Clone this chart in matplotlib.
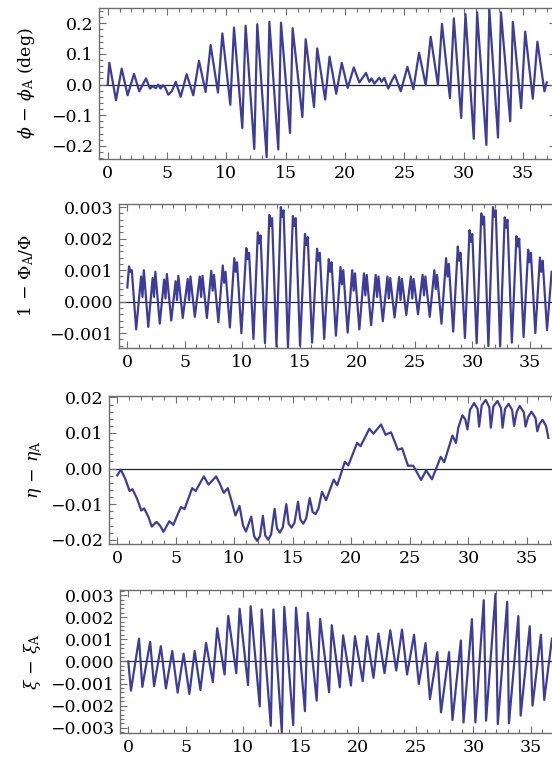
import numpy as np
import matplotlib.pyplot as plt
from matplotlib.ticker import MultipleLocator

plt.rcParams['font.family'] = 'DejaVu Serif'
plt.rcParams['mathtext.fontset'] = 'dejavuserif'

# ---- panel 1: phi - phi_A (deg), peaks and troughs
phi_pts = [(0.00, 0.000), (0.14, 0.071), (0.70, -0.051), (1.18, 0.052), (1.68, -0.035),
           (2.22, 0.035), (2.66, -0.022), (3.23, 0.020), (3.56, -0.013), (3.80, -0.005),
           (4.05, -0.012), (4.25, 0.000), (4.45, -0.013), (4.65, -0.002), (4.85, -0.010),
           (5.10, -0.033), (5.40, -0.022), (5.73, 0.009), (6.15, -0.040), (6.65, 0.034),
           (7.21, -0.035), (7.69, 0.078), (8.25, -0.024), (8.67, 0.129), (9.29, -0.026),
           (9.66, 0.167), (10.33, -0.066), (10.64, 0.186), (11.34, -0.142), (11.62, 0.192),
           (12.35, -0.210), (12.60, 0.197), (13.39, -0.237), (13.62, 0.205), (14.37, -0.212),
           (14.60, 0.202), (15.36, -0.158), (15.58, 0.184), (16.40, -0.106), (16.68, 0.148),
           (17.38, -0.073), (17.65, 0.118), (18.32, -0.049), (18.69, 0.091), (19.25, -0.030),
           (19.72, 0.071), (20.22, -0.011), (20.73, 0.056), (21.20, 0.007), (21.76, 0.038),
           (22.04, 0.009), (22.23, 0.020), (22.46, 0.003), (22.88, 0.022), (23.07, 0.009),
           (23.30, 0.022), (23.63, -0.013), (23.91, 0.011), (24.19, 0.031), (24.69, -0.022),
           (25.25, 0.058), (25.75, -0.015), (26.23, 0.104), (26.79, -0.002), (27.21, 0.156),
           (27.82, -0.002), (28.16, 0.198), (28.83, -0.044), (29.16, 0.216), (29.78, -0.109),
           (30.14, 0.230), (30.84, -0.177), (31.12, 0.236), (31.90, -0.197), (32.15, 0.244),
           (32.88, -0.173), (33.13, 0.236), (33.91, -0.120), (34.13, 0.205), (34.83, -0.077),
           (35.17, 0.173), (35.81, -0.046), (36.20, 0.140), (36.79, -0.022), (36.98, 0.007)]

# ---- panel 2: 1 - Phi_A/Phi (x 1e-3), one entry per oscillation
flux_peak_t = [0.15, 1.2, 2.2, 3.2, 4.2, 5.25, 6.3, 7.3, 8.3, 9.3,
               10.35, 11.35, 12.35, 13.35, 14.4, 15.45, 16.5, 17.52, 18.54, 19.56,
               20.58, 21.6, 22.62, 23.64, 24.66, 25.68, 26.7, 27.72, 28.74, 29.76,
               30.78, 31.8, 32.82, 33.84, 34.86, 35.88, 36.9]
flux_peak1 = [1.12, 0.80, 0.75, 0.70, 0.65, 0.72, 0.80, 0.98, 1.15, 1.38,
              1.70, 2.20, 2.75, 3.00, 2.72, 2.15, 1.68, 1.35, 1.10, 1.00,
              0.90, 0.85, 0.80, 0.78, 0.80, 0.85, 1.00, 1.38, 1.75, 2.27,
              2.80, 3.00, 2.68, 2.08, 1.65, 1.40, 0.95]
flux_notch = [0.95, 0.15, 0.15, 0.10, 0.05, 0.05, 0.15, 0.35, 0.60, 0.95,
              1.35, 1.85, 2.40, 2.70, 2.40, 1.80, 1.30, 0.95, 0.55, 0.35,
              0.20, 0.15, 0.10, 0.05, 0.10, 0.20, 0.40, 0.80, 1.30, 1.90,
              2.45, 2.70, 2.35, 1.75, 1.25, 0.95]
flux_peak2 = [1.00, 1.00, 0.95, 0.88, 0.82, 0.80, 0.82, 0.85, 0.95, 1.25,
              1.55, 2.10, 2.65, 2.90, 2.65, 2.05, 1.55, 1.25, 1.00, 0.90,
              0.85, 0.80, 0.75, 0.72, 0.72, 0.80, 0.85, 1.20, 1.55, 2.15,
              2.70, 2.90, 2.60, 2.00, 1.55, 1.30]
flux_trough = [-0.88, -0.80, -0.70, -0.60, -0.52, -0.48, -0.52, -0.65, -0.82, -1.00,
               -1.18, -1.32, -1.42, -1.45, -1.40, -1.30, -1.18, -1.08, -0.98, -0.88,
               -0.75, -0.62, -0.50, -0.42, -0.40, -0.48, -0.70, -0.95, -1.15, -1.32,
               -1.41, -1.42, -1.30, -1.12, -1.00, -0.90]
flux_start = 0.45

# ---- panel 3: eta - eta_A
eta_pts = [(0.00, -0.0019), (0.31, -0.0003), (0.70, -0.0030), (1.05, -0.0063), (1.30, -0.0058),
           (1.70, -0.0085), (2.05, -0.0118), (2.30, -0.0112), (2.65, -0.0135), (2.95, -0.0163),
           (3.35, -0.0150), (3.65, -0.0160), (3.95, -0.0178), (4.45, -0.0148), (4.80, -0.0158),
           (5.15, -0.0130), (5.45, -0.0108), (5.75, -0.0114), (6.40, -0.0055), (6.70, -0.0063),
           (7.40, -0.0022), (7.80, -0.0045), (8.45, -0.0022), (8.80, -0.0045), (9.10, -0.0068),
           (9.45, -0.0055), (9.80, -0.0095), (10.10, -0.0132), (10.45, -0.0105), (10.75, -0.0160),
           (11.00, -0.0177), (11.45, -0.0135), (11.70, -0.0190), (11.95, -0.0203), (12.20, -0.0190),
           (12.45, -0.0133), (12.65, -0.0188), (12.90, -0.0200), (13.15, -0.0185), (13.45, -0.0113),
           (13.65, -0.0168), (13.90, -0.0180), (14.15, -0.0165), (14.45, -0.0100), (14.65, -0.0155),
           (14.90, -0.0166), (15.15, -0.0152), (15.45, -0.0093), (15.65, -0.0143), (15.90, -0.0155),
           (16.15, -0.0140), (16.45, -0.0083), (16.70, -0.0122), (16.95, -0.0128), (17.20, -0.0112),
           (17.50, -0.0065), (17.85, -0.0089), (18.50, -0.0031), (18.80, -0.0047), (19.45, 0.0019),
           (19.75, 0.0009), (20.50, 0.0072), (20.80, 0.0063), (21.55, 0.0112), (21.90, 0.0098),
           (22.55, 0.0124), (22.93, 0.0095), (23.40, 0.0102), (23.98, 0.0053), (24.35, 0.0057),
           (24.85, 0.0008), (25.30, 0.0008), (25.97, -0.0032), (26.40, -0.0005), (26.90, -0.0030),
           (27.65, 0.0033), (27.95, 0.0018), (28.65, 0.0093), (28.95, 0.0072), (29.15, 0.0115),
           (29.50, 0.0150), (29.75, 0.0138), (29.93, 0.0110), (30.15, 0.0165), (30.50, 0.0184),
           (30.80, 0.0168), (30.93, 0.0118), (31.15, 0.0178), (31.50, 0.0193), (31.80, 0.0172),
           (31.93, 0.0115), (32.15, 0.0175), (32.50, 0.0190), (32.80, 0.0170), (32.93, 0.0115),
           (33.15, 0.0168), (33.45, 0.0182), (33.75, 0.0165), (33.92, 0.0120), (34.15, 0.0160),
           (34.40, 0.0176), (34.75, 0.0158), (34.90, 0.0118), (35.12, 0.0145), (35.40, 0.0160),
           (35.75, 0.0142), (35.90, 0.0105), (36.10, 0.0126), (36.35, 0.0137), (36.65, 0.0120),
           (36.85, 0.0086)]

# ---- panel 4: xi - xi_A (x 1e-3)
xi_pts = [(0.00, 0.00), (0.23, -1.32), (0.93, 1.03), (1.22, -1.15), (1.90, 0.88), (2.24, -1.12),
          (2.83, 0.69), (3.27, -1.22), (3.82, 0.47), (4.29, -1.41), (4.81, 0.35), (5.31, -1.47),
          (5.77, 0.47), (6.27, -1.29), (6.76, 0.84), (7.35, -0.93), (7.73, 1.50), (8.37, -0.59),
          (8.69, 2.06), (9.39, -0.53), (9.68, 2.38), (10.41, -1.07), (10.64, 2.50), (11.43, -2.03),
          (11.60, 2.35), (12.39, -2.91), (12.62, 2.35), (13.35, -3.20), (13.56, 2.46), (14.34, -2.88),
          (14.58, 2.43), (15.36, -2.25), (15.60, 2.20), (16.38, -1.77), (16.68, 1.92), (17.46, -1.39),
          (17.69, 1.64), (18.39, -1.17), (18.68, 1.18), (19.36, -1.09), (19.71, 1.14), (20.38, -0.89),
          (20.76, 1.14), (21.32, -0.74), (21.75, 1.26), (22.28, -0.53), (22.78, 1.41), (23.30, -0.41),
          (23.80, 1.44), (24.24, -0.59), (24.85, 1.21), (25.26, -1.02), (25.85, 0.83), (26.23, -1.70),
          (26.87, 0.42), (27.19, -2.30), (27.89, 0.42), (28.19, -2.65), (28.92, 0.95), (29.15, -2.76),
          (29.88, 1.91), (30.18, -2.76), (30.91, 2.77), (31.11, -2.68), (31.93, 3.05), (32.13, -2.83),
          (32.95, 2.70), (33.10, -2.80), (33.92, 2.05), (34.12, -2.45), (34.91, 1.59), (35.15, -2.00),
          (35.88, 1.21), (36.17, -1.74), (36.84, 1.03)]

ylabels = [r'$\phi\,-\,\phi_{\rm A}$ (deg)', r'$1\,-\,\Phi_{\rm A}/\Phi$',
           r'$\eta\,-\,\eta_{\rm A}$', r'$\xi\,-\,\xi_{\rm A}$']
yticks = [[-0.2, -0.1, 0.0, 0.1, 0.2],
          [-0.001, 0.0, 0.001, 0.002, 0.003],
          [-0.02, -0.01, 0.0, 0.01, 0.02],
          [-0.003, -0.002, -0.001, 0.0, 0.001, 0.002, 0.003]]
ytick_labels = [['\u22120.2', '\u22120.1', '0.0', '0.1', '0.2'],
                ['\u22120.001', '0.000', '0.001', '0.002', '0.003'],
                ['\u22120.02', '\u22120.01', '0.00', '0.01', '0.02'],
                ['\u22120.003', '\u22120.002', '\u22120.001', '0.000', '0.001', '0.002', '0.003']]
xticks = [0, 5, 10, 15, 20, 25, 30, 35]

# build panel 2 line from the per-cycle readings
t2 = [0.0]
v2 = [flux_start]
for k in range(len(flux_peak_t)):
    T = flux_peak_t[k]
    t2.append(T)
    v2.append(flux_peak1[k])
    if k < len(flux_trough):
        t2 += [T + 0.12, T + 0.24, T + 0.62]
        v2 += [flux_notch[k], flux_peak2[k], flux_trough[k]]

series = [(np.array([p[0] for p in phi_pts]), np.array([p[1] for p in phi_pts])),
          (np.array(t2), np.array(v2) * 1e-3),
          (np.array([p[0] for p in eta_pts]), np.array([p[1] for p in eta_pts])),
          (np.array([p[0] for p in xi_pts]), np.array([p[1] for p in xi_pts]) * 1e-3)]

W, H = 552, 764
# pixel boxes: left, top, width, bottom
boxes = [(98.9, 7.7, 456.8, 159.0),
         (118.8, 204.0, 442.5, 348.3),
         (108.6, 396.0, 450.2, 544.0),
         (119.8, 590.0, 442.5, 733.3)]
ylims = [(-0.243, 0.251), (-0.00148, 0.0031), (-0.0212, 0.0204), (-0.00325, 0.00323)]
yminor = [0.02, 0.0002, 0.002, 0.0002]
label_x = [37, 36, 44, 43]

line_col = '#3d3d99'
frame_col = '#6e6e6e'

fig = plt.figure(figsize=(W / 100, H / 100), dpi=100)
for i in range(4):
    l, top, w, bot = boxes[i]
    ax = fig.add_axes([l / W, 1 - bot / H, w / W, (bot - top) / H])
    t, v = series[i]
    ax.axhline(0, color='#222222', lw=0.9, zorder=1)
    ax.plot(t, v, color=line_col, lw=1.6, zorder=2)
    ax.set_xlim(-0.74, 37.74)
    ax.set_ylim(*ylims[i])
    ax.set_xticks(xticks)
    ax.set_xticklabels([str(x) for x in xticks])
    ax.set_yticks(yticks[i])
    ax.set_yticklabels(ytick_labels[i])
    ax.xaxis.set_minor_locator(MultipleLocator(1))
    ax.yaxis.set_minor_locator(MultipleLocator(yminor[i]))
    ax.tick_params(which='both', direction='in', top=True, right=True,
                   color=frame_col, width=0.8, labelsize=12.5, pad=4)
    ax.tick_params(which='major', length=5)
    ax.tick_params(which='minor', length=2.8)
    for s in ax.spines.values():
        s.set_color(frame_col)
        s.set_linewidth(1.0)
    ax.set_ylabel(ylabels[i], fontsize=12.5)
    ax.yaxis.set_label_coords((label_x[i] - l) / w, 0.5)

fig.savefig('out.png', dpi=100)
